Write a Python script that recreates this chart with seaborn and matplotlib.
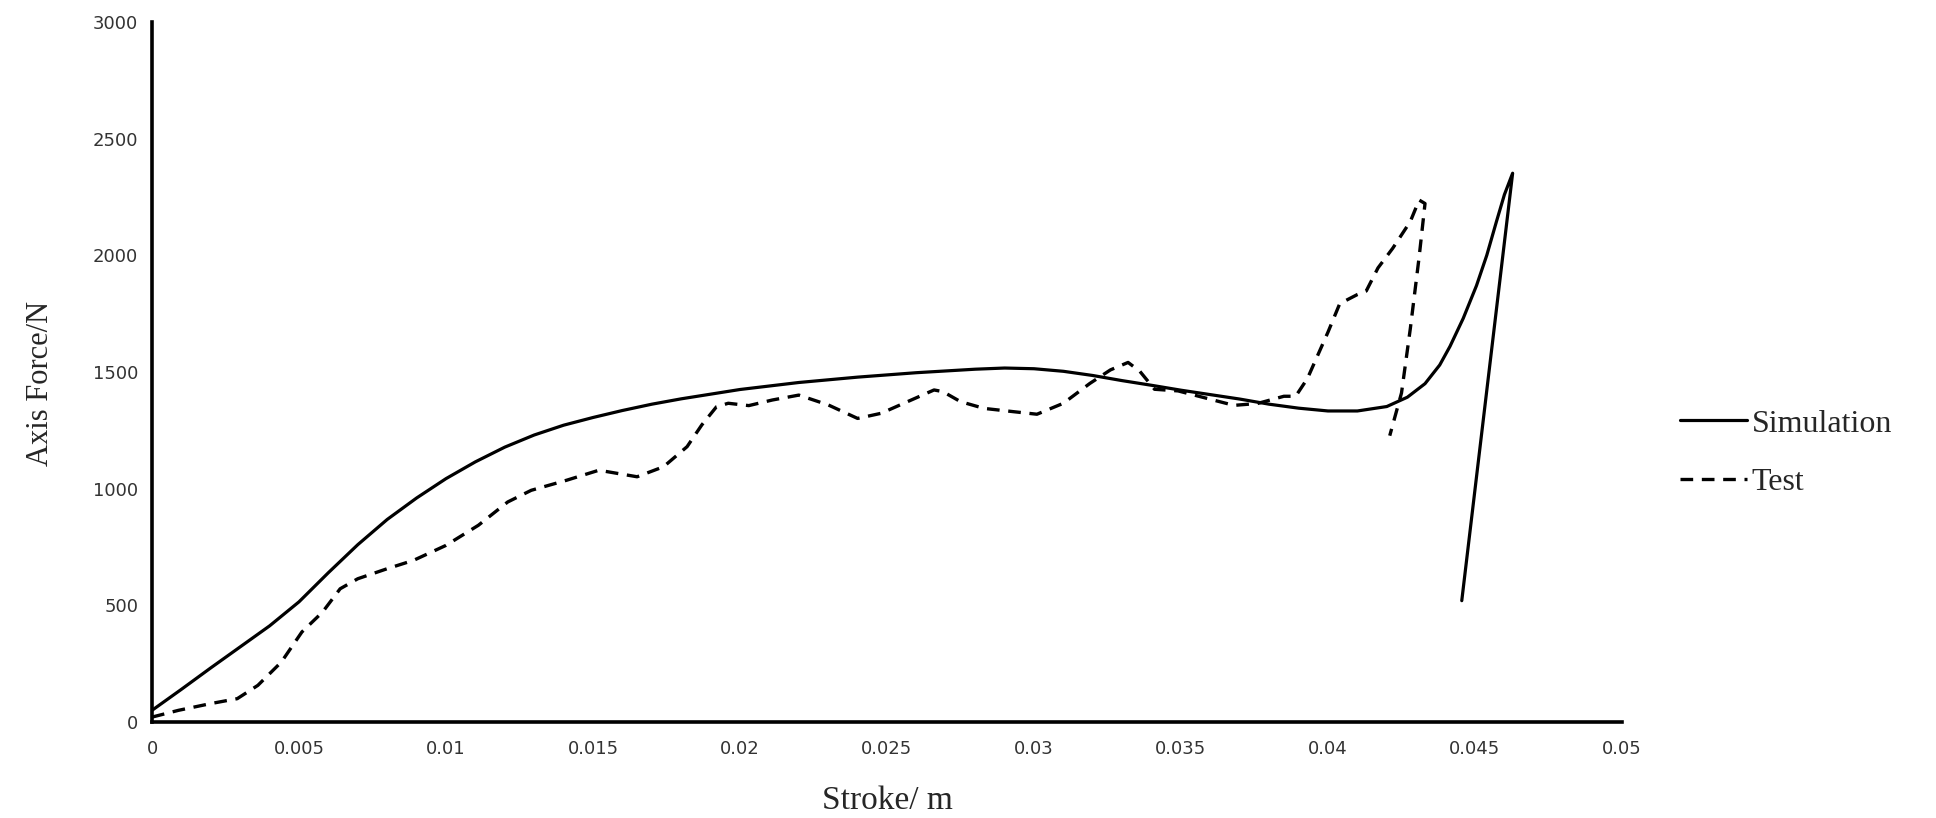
"""Axis force vs stroke: simulation vs test."""
import numpy as np
import pandas as pd
import matplotlib
matplotlib.use("Agg")
import matplotlib.pyplot as plt
import seaborn as sns

# simulation curve (stroke in m, force in N)
sim_stroke = [0.0, 0.001, 0.002, 0.003, 0.004, 0.005, 0.006, 0.007, 0.008, 0.009,
              0.010, 0.011, 0.012, 0.013, 0.014, 0.015, 0.016, 0.017, 0.018, 0.019,
              0.020, 0.022, 0.024, 0.026, 0.028, 0.029, 0.030, 0.031, 0.032, 0.033,
              0.034, 0.035, 0.036, 0.037, 0.038, 0.039, 0.040, 0.041, 0.042, 0.0427,
              0.0433, 0.0438, 0.04415, 0.0446, 0.04505, 0.0454, 0.04573, 0.0460, 0.04628, 0.04455]
sim_force = [50, 140, 232, 322, 412, 515, 640, 760, 868, 960,
             1043, 1115, 1178, 1230, 1272, 1305, 1335, 1362, 1385, 1405,
             1425, 1455, 1478, 1497, 1512, 1517, 1514, 1503, 1485, 1463,
             1443, 1422, 1403, 1384, 1362, 1345, 1333, 1333, 1352, 1392,
             1450, 1530, 1610, 1730, 1870, 2000, 2145, 2260, 2352, 520]

# test curve
test_stroke = [0.0, 0.0009, 0.0020, 0.0029, 0.0036, 0.0044, 0.0051, 0.0058, 0.0064, 0.0070,
               0.0080, 0.0089, 0.0100, 0.0111, 0.0121, 0.0129, 0.0141, 0.0152, 0.0165, 0.0174,
               0.0182, 0.0187, 0.0192, 0.0196, 0.0203, 0.0211, 0.0220, 0.0230, 0.0240, 0.0248,
               0.0257, 0.0266, 0.0269, 0.0275, 0.0283, 0.0293, 0.0301, 0.0310, 0.0319, 0.0326,
               0.0332, 0.0336, 0.0341, 0.0349, 0.0368, 0.0376, 0.0385, 0.0389, 0.0393, 0.0400,
               0.0404, 0.0410, 0.0413, 0.0417, 0.0422, 0.0428, 0.0431, 0.0433, 0.0431, 0.0428,
               0.0425, 0.0421]
test_force = [21, 50, 79, 100, 157, 257, 386, 471, 571, 614,
              657, 693, 757, 843, 943, 993, 1036, 1079, 1051, 1094,
              1180, 1273, 1351, 1366, 1356, 1380, 1401, 1359, 1301, 1323,
              1373, 1423, 1416, 1373, 1344, 1330, 1319, 1366, 1451, 1509,
              1541, 1503, 1426, 1419, 1357, 1365, 1396, 1396, 1472, 1671,
              1793, 1832, 1847, 1946, 2030, 2145, 2237, 2222, 1993, 1686,
              1410, 1227]

x_ticks = [0, 0.005, 0.01, 0.015, 0.02, 0.025, 0.03, 0.035, 0.04, 0.045, 0.05]
y_ticks = [0, 500, 1000, 1500, 2000, 2500, 3000]

sim_df = pd.DataFrame({"stroke": sim_stroke, "force": sim_force})
test_df = pd.DataFrame({"stroke": test_stroke, "force": test_force})

sns.set_style("white")
plt.rcParams["font.family"] = ["DejaVu Sans"]
serif = ["Liberation Serif", "DejaVu Serif"]

fig = plt.figure(figsize=(19.36, 8.18), dpi=100)
ax = fig.add_axes([152 / 1936, 1 - 722 / 818, (1622 - 152) / 1936, (722 - 22) / 818])

sns.lineplot(data=sim_df, x="stroke", y="force", sort=False, estimator=None,
             color="black", lw=2.3, ax=ax, label="Simulation")
sns.lineplot(data=test_df, x="stroke", y="force", sort=False, estimator=None,
             color="black", lw=2.4, ax=ax, label="Test")
ax.lines[1].set_dashes([3.8, 2.6])

ax.set_xlim(0, 0.05)
ax.set_ylim(0, 3000)
ax.set_xticks(x_ticks)
ax.set_yticks(y_ticks)
ax.set_xticklabels([f"{v:g}" for v in x_ticks])
ax.tick_params(direction="in", length=6, width=2.2, color="black",
               labelsize=13, labelcolor="#333333")
ax.tick_params(axis="x", pad=13)
ax.tick_params(axis="y", pad=10)

sns.despine(ax=ax)
for side in ("left", "bottom"):
    ax.spines[side].set_linewidth(2.6)
    ax.spines[side].set_color("black")

ax.set_xlabel("Stroke/ m", family=serif, fontsize=24, labelpad=20)
ax.set_ylabel("Axis Force/N", family=serif, fontsize=22)
ax.yaxis.set_label_coords(-0.066, 0.483)

leg = ax.legend(loc="center left", bbox_to_anchor=(1680 / 1936, 1 - 453 / 818),
                bbox_transform=fig.transFigure, frameon=False, borderpad=0,
                borderaxespad=0, handlelength=2.1, handletextpad=0.15,
                labelspacing=0.9, prop={"family": serif, "size": 23})

fig.savefig("out.png", dpi=100, facecolor="white")
